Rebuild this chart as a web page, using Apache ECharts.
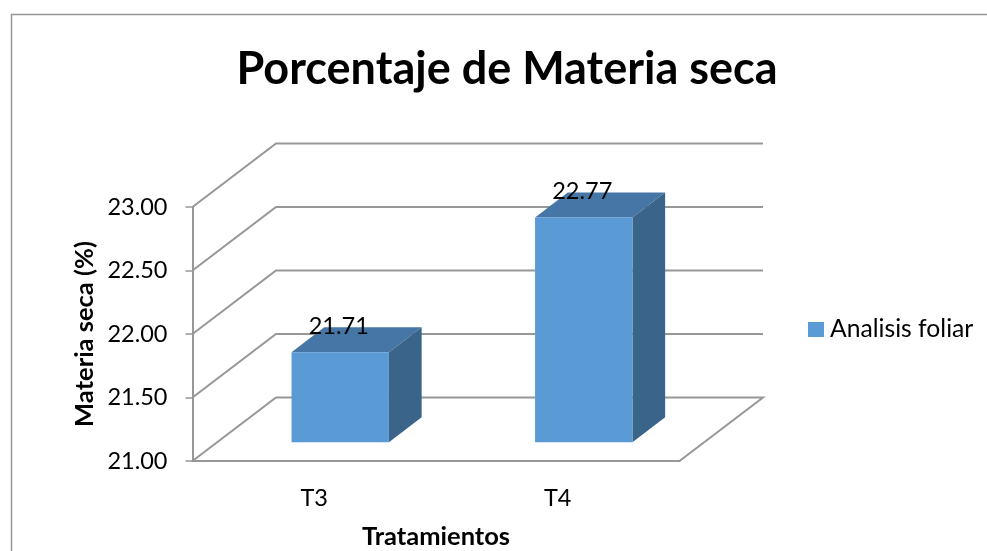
<!DOCTYPE html>
<html>
<head>
<meta charset="utf-8">
<style>
  html, body { margin: 0; padding: 0; background: #fff; }
  #chart { width: 987px; height: 551px; }
</style>
<script src="https://cdn.jsdelivr.net/npm/echarts@6/dist/echarts.min.js"></script>
</head>
<body>
<div id="chart"></div>
<script>
const categories = ["T3", "T4"];
const seriesName = "Analisis foliar";
const values = [21.71, 22.77];
const yTicks = [21, 21.5, 22, 22.5, 23];

const FONT = "Lato, 'Open Sans', sans-serif";
const LINE = "#979797";
// depth of the fake 3d box, in pixels
const WALL_DX = 83.5, WALL_DY = 63.5;
const BAR_DX = 32.7, BAR_DY = 25;
const BAR_SHIFT_X = 26, BAR_SHIFT_Y = 18.7;

const chart = echarts.init(document.getElementById("chart"));

function renderWall(params, api) {
  const cs = params.coordSys;
  const v = api.value(0);
  const y = api.coord([0, v])[1];
  const left = cs.x, right = cs.x + cs.width;
  const points = [
    [left, y],
    [left + WALL_DX, y - WALL_DY],
    [right + WALL_DX, y - WALL_DY]
  ];
  // the floor is closed on its right side
  if (v === yTicks[0]) points.push([right, y]);
  return {
    type: "polyline",
    shape: { points },
    style: { stroke: LINE, lineWidth: 2, fill: null }
  };
}

function renderBar(params, api) {
  const top = api.coord([api.value(0), api.value(1)]);
  const base = api.coord([api.value(0), yTicks[0]]);
  const w = api.size([1, 0])[0] * 0.4;
  const x0 = top[0] + BAR_SHIFT_X - w / 2, x1 = x0 + w;
  const y0 = top[1] - BAR_SHIFT_Y, y1 = base[1] - BAR_SHIFT_Y;
  return {
    type: "group",
    children: [
      {
        type: "polygon",
        shape: { points: [[x0, y0], [x1, y0], [x1 + BAR_DX, y0 - BAR_DY], [x0 + BAR_DX, y0 - BAR_DY]] },
        style: { fill: "#4576a5" }
      },
      {
        type: "polygon",
        shape: { points: [[x1, y0], [x1 + BAR_DX, y0 - BAR_DY], [x1 + BAR_DX, y1 - BAR_DY], [x1, y1]] },
        style: { fill: "#3a6489" }
      },
      {
        type: "rect",
        shape: { x: x0, y: y0, width: w, height: y1 - y0 },
        style: { fill: "#5b9bd5" }
      },
      {
        type: "text",
        x: (x0 + x1) / 2 - 1.5,
        y: y0 - 26,
        style: {
          text: api.value(1).toFixed(2),
          font: "23.5px " + FONT,
          fill: "#000",
          align: "center",
          verticalAlign: "middle"
        }
      }
    ]
  };
}

chart.setOption({
  animation: false,
  backgroundColor: "#fff",
  title: {
    text: "Porcentaje de Materia seca",
    left: 502,
    top: 42,
    textAlign: "center",
    textStyle: { fontFamily: FONT, fontWeight: "bold", fontSize: 45, color: "#000" }
  },
  legend: {
    data: [seriesName],
    left: 803,
    top: 312,
    icon: "rect",
    itemWidth: 16,
    itemHeight: 15,
    itemGap: 0,
    selectedMode: false,
    textStyle: { fontFamily: FONT, fontSize: 24.7, color: "#000", padding: [0, 0, 0, 1] }
  },
  grid: { left: 192.5, top: 207, width: 487, height: 254, outerBoundsMode: "none" },
  xAxis: {
    type: "category",
    data: categories,
    name: "Tratamientos",
    nameLocation: "middle",
    nameGap: 63,
    nameTextStyle: { fontFamily: FONT, fontWeight: "bold", fontSize: 25.5, color: "#000" },
    axisLine: { lineStyle: { color: LINE, width: 2 } },
    axisTick: { length: 7, lineStyle: { color: LINE, width: 1.5 } },
    axisLabel: { fontFamily: FONT, fontSize: 23.5, color: "#000", margin: 25 }
  },
  yAxis: {
    type: "value",
    min: 21,
    max: 23,
    interval: 0.5,
    name: "Materia seca (%)",
    nameLocation: "middle",
    nameGap: 95,
    nameTextStyle: { fontFamily: FONT, fontWeight: "bold", fontSize: 25.5, color: "#000" },
    axisLine: { show: true, lineStyle: { color: LINE, width: 2 } },
    axisTick: { show: true, length: 7, lineStyle: { color: LINE, width: 1.5 } },
    axisLabel: { fontFamily: FONT, fontSize: 23.5, color: "#000", margin: 25, formatter: (v) => v.toFixed(2) },
    splitLine: { show: false }
  },
  graphic: [
    {
      type: "polyline",
      silent: true,
      shape: { points: [[11.5, 551], [11.5, 14.5], [987, 14.5]] },
      style: { stroke: LINE, lineWidth: 1.5, fill: null }
    }
  ],
  series: [
    {
      name: "walls",
      type: "custom",
      renderItem: renderWall,
      encode: { y: 0 },
      data: yTicks.map((v) => [v]),
      z: 1,
      silent: true
    },
    {
      name: seriesName,
      type: "custom",
      renderItem: renderBar,
      encode: { x: 0, y: 1 },
      data: values.map((v, i) => [i, v]),
      itemStyle: { color: "#5b9bd5" },
      z: 5,
      silent: true
    }
  ]
});
</script>
</body>
</html>
